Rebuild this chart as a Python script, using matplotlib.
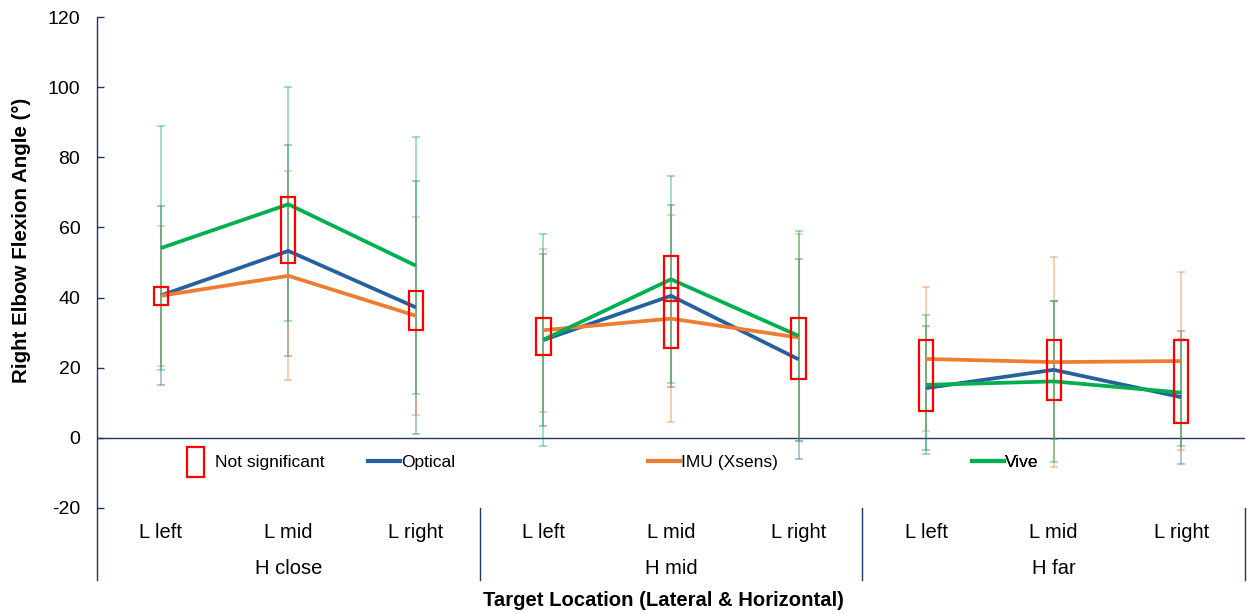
import matplotlib
matplotlib.use("Agg")
import matplotlib.pyplot as plt
from matplotlib.patches import Rectangle
from matplotlib.lines import Line2D
import matplotlib.transforms as mtransforms

plt.rcParams['font.family'] = ['Liberation Sans', 'DejaVu Sans']
plt.rcParams['axes.unicode_minus'] = False

# ---- data ----
lateral = ["L left", "L mid", "L right"] * 3
horizontal = ["H close", "H mid", "H far"]

optical_mean = [40.6, 53.3, 37.2, 27.9, 40.5, 22.4, 14.2, 19.4, 11.6]
optical_sd = [25.4, 30.1, 36.0, 24.6, 26.0, 28.5, 17.7, 19.7, 19.0]
imu_mean = [40.5, 46.2, 34.8, 30.7, 34.0, 28.6, 22.5, 21.6, 21.9]
imu_sd = [20.0, 29.8, 28.2, 23.2, 29.5, 29.4, 20.5, 29.9, 25.3]
vive_mean = [54.1, 66.6, 49.1, 28.0, 45.2, 29.1, 15.1, 16.1, 12.9]
vive_sd = [34.8, 33.3, 36.7, 30.2, 29.6, 30.0, 19.8, 23.0, 15.2]

# not-significant boxes: category index, low, high
ns_pos = [0, 1, 2, 3, 4, 4, 5, 6, 7, 8]
ns_low = [37.9, 50.0, 30.8, 23.6, 39.0, 25.6, 16.8, 7.8, 10.8, 4.2]
ns_high = [43.1, 68.8, 41.9, 34.1, 51.9, 42.8, 34.1, 27.9, 27.9, 27.9]

series = [
    ("Optical", optical_mean, optical_sd, "#25609F"),
    ("IMU (Xsens)", imu_mean, imu_sd, "#ED7D31"),
    ("Vive", vive_mean, vive_sd, "#00B050"),
]

W, H = 1247, 614
fig = plt.figure(figsize=(W / 100, H / 100), dpi=100)
ax_l, ax_r, ax_t, ax_b = 97, 1245, 17, 508
ax = fig.add_axes([ax_l / W, 1 - ax_b / H, (ax_r - ax_l) / W, (ax_b - ax_t) / H])
axh = ax_b - ax_t
axw = ax_r - ax_l

navy = "#1F3864"
x = list(range(len(lateral)))

for name, m, s, c in series:
    ax.errorbar(x, m, yerr=s, fmt='none', ecolor=c, alpha=0.45,
                elinewidth=1.2, capsize=3.2, capthick=1.2, zorder=2)
for name, m, s, c in series:
    for g in range(len(horizontal)):
        sl = slice(g * 3, g * 3 + 3)
        ax.plot(x[sl], m[sl], color=c, lw=2.7, zorder=3, solid_capstyle='butt')

bw = 0.112
for p, lo, hi in zip(ns_pos, ns_low, ns_high):
    ax.add_patch(Rectangle((p - bw / 2, lo), bw, hi - lo, fill=False,
                           edgecolor="#FF0000", lw=1.6, zorder=4))

ax.set_xlim(-0.5, 8.5)
ax.set_ylim(-20, 120)
ax.set_yticks(range(-20, 121, 20))
ax.set_xticks([])
for sp in ["top", "right", "bottom"]:
    ax.spines[sp].set_visible(False)
ax.spines["left"].set_color(navy)
ax.spines["left"].set_linewidth(1.0)
ax.tick_params(axis='y', direction='in', length=5, width=1, color=navy,
               labelsize=14, pad=12, labelcolor="#000000")
ax.axhline(0, color=navy, lw=1.0, zorder=1)

# category axis
trans = mtransforms.blended_transform_factory(ax.transData, ax.transAxes)
y_cat = (ax_b - 532) / axh
y_grp = (ax_b - 569) / axh
y_end = (ax_b - 580) / axh
for i, lab in enumerate(lateral):
    ax.text(i, y_cat, lab, transform=trans, ha='center', va='center', fontsize=14.5)
for g, lab in enumerate(horizontal):
    ax.text(g * 3 + 1, y_grp, lab, transform=trans, ha='center', va='center', fontsize=14.5)
for xs in [-0.5, 2.5, 5.5, 8.5]:
    ax.plot([xs, xs], [0, y_end], transform=trans,
            color=navy, lw=1.0, clip_on=False)

# legends
fs_leg = 12.5
em = fs_leg * 100 / 72
y_leg = (ax_b - 462) / axh
leg_specs = [
    (Rectangle((0, 0), 1, 1, fill=False, edgecolor="#FF0000", lw=1.6), "Not significant", 187, 17, 11, 2.3),
    (Line2D([], [], color="#25609F", lw=3), "Optical", 368, 32, 1, 0.7),
    (Line2D([], [], color="#ED7D31", lw=3), "IMU (Xsens)", 648, 32, 1, 0.7),
    (Line2D([], [], color="#00B050", lw=3), "Vive", 972, 32, 1, 0.7),
]
for h, lab, px, hl, gap, hh in leg_specs:
    lg = ax.legend(handles=[h], labels=[lab], loc='center left',
                   bbox_to_anchor=((px - ax_l) / axw, y_leg), frameon=False,
                   fontsize=fs_leg, handlelength=hl / em, handletextpad=gap / em,
                   handleheight=hh, borderpad=0, borderaxespad=0)
    ax.add_artist(lg)

fig.text(22 / W, 1 - 240 / H, "Right Elbow Flexion Angle (°)", rotation=90,
         ha='center', va='center', fontsize=14.8, fontweight='bold')
fig.text(663 / W, 1 - 600 / H, "Target Location (Lateral & Horizontal)",
         ha='center', va='center', fontsize=14.6, fontweight='bold')

fig.savefig("out.png", dpi=100)
